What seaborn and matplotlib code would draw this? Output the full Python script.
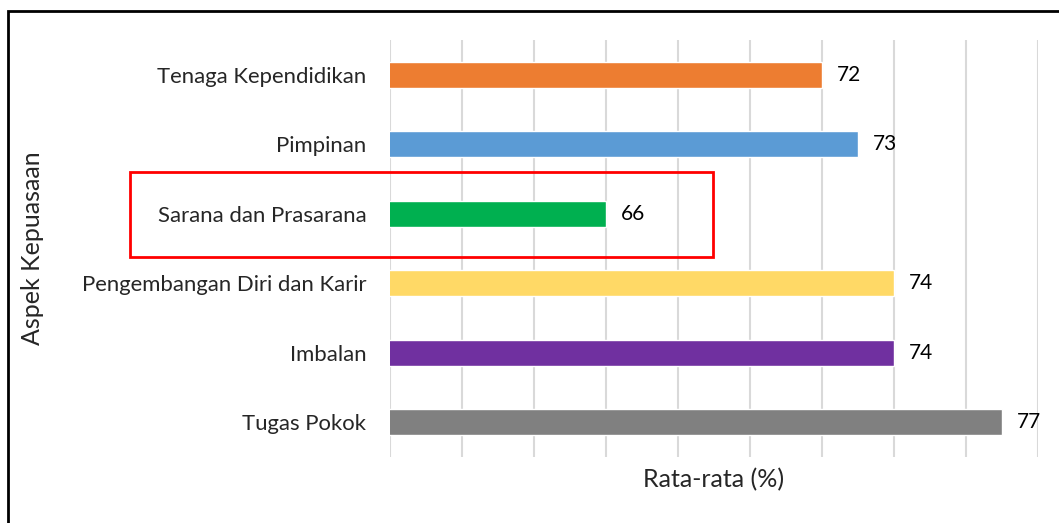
import numpy as np
import pandas as pd
import seaborn as sns
import matplotlib.pyplot as plt
import matplotlib as mpl
from matplotlib.patches import Rectangle

# Data
aspects = ['Tenaga Kependidikan', 'Pimpinan', 'Sarana dan Prasarana',
           'Pengembangan Diri dan Karir', 'Imbalan', 'Tugas Pokok']
scores = [72, 73, 66, 74, 74, 77]
colors = ['#ED7D31', '#5B9BD5', '#00B050', '#FFD966', '#7030A0', '#808080']

sns.set_style('white')
mpl.rcParams['font.family'] = ['Lato', 'DejaVu Sans']

df = pd.DataFrame({'aspect': aspects, 'score': scores})

fig = plt.figure(figsize=(10.59, 5.23), dpi=100)
ax = fig.add_axes([390/1059, 1 - 457/523, (1038 - 390)/1059, (457 - 40)/523])

sns.barplot(data=df, y='aspect', x='score', hue='aspect', palette=colors,
            saturation=1, width=0.37, legend=False, ax=ax, orient='h')
for c in ax.containers:
    ax.bar_label(c, padding=11, fontsize=15, color='black')

ax.set_xlim(60, 78)
ax.set_xticks(np.arange(60, 79, 2))
ax.xaxis.grid(True, color='#d9d9d9', linewidth=1.5)
ax.set_axisbelow(True)
ax.tick_params(axis='x', labelbottom=False, length=0)
ax.tick_params(axis='y', length=0, labelsize=15.9, pad=17)
for _, loc in ax.spines.items():
    loc.set_visible(False)
ax.set_ylabel('')
ax.set_xlabel('')

fig.text(714/1059, 1 - 480/523, 'Rata-rata (%)', ha='center', va='center', fontsize=18)
fig.text(33/1059, 1 - 248/523, 'Aspek Kepuasaan', ha='center', va='center',
         rotation=90, fontsize=18)

# highlight box
fig.patches.append(Rectangle((130/1059, 1 - 257/523), (713 - 130)/1059, (257 - 172)/523,
                             transform=fig.transFigure, fill=False,
                             edgecolor='#FF0000', linewidth=2))
# outer frame (left and top only visible)
fig.patches.append(Rectangle((8/1059, -0.1), 1.2, 1.1 - 11/523,
                             transform=fig.transFigure, fill=False,
                             edgecolor='black', linewidth=2))

fig.savefig('out.png', dpi=100)
